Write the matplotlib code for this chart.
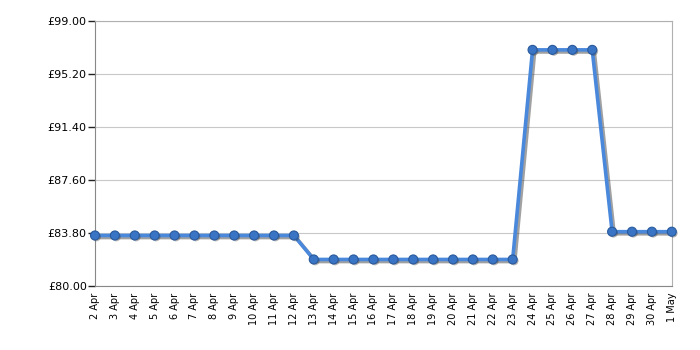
#!/usr/bin/env python3
import matplotlib
matplotlib.use("Agg")
import matplotlib.pyplot as plt
import matplotlib.patheffects as pe
import numpy as np

# price history, one value per day
dates = ["2 Apr", "3 Apr", "4 Apr", "5 Apr", "6 Apr", "7 Apr", "8 Apr", "9 Apr",
         "10 Apr", "11 Apr", "12 Apr", "13 Apr", "14 Apr", "15 Apr", "16 Apr",
         "17 Apr", "18 Apr", "19 Apr", "20 Apr", "21 Apr", "22 Apr", "23 Apr",
         "24 Apr", "25 Apr", "26 Apr", "27 Apr", "28 Apr", "29 Apr", "30 Apr", "1 May"]
prices = [83.62] * 11 + [81.90] * 11 + [96.93] * 4 + [83.89] * 4
y_ticks = [80.00, 83.80, 87.60, 91.40, 95.20, 99.00]
grid_days = [2, 5, 8, 11, 14, 17, 20, 23, 26, 29]  # indices with a vertical gridline

fig = plt.figure(figsize=(7, 3.5), dpi=100)
ax = fig.add_axes([0.1357, 0.183, 0.824, 0.757])

x = np.arange(len(dates))
# line with a soft drop shadow
ax.plot(x, prices, color="#4a88dc", lw=2.6, zorder=3, clip_on=False,
        path_effects=[pe.SimpleLineShadow(offset=(1.5, -1.5), shadow_color="#444444", alpha=0.5),
                      pe.Normal()])
# markers on top, small shadow only
ax.plot(x, prices, ls="none", marker="o", ms=6.5, mfc="#3a74c4", mec="#2a5a9c",
        mew=0.8, zorder=4, clip_on=False,
        path_effects=[pe.SimplePatchShadow(offset=(1, -1), shadow_rgbFace="#333333", alpha=0.35),
                      pe.Normal()])

ax.set_xlim(0, len(dates) - 1)
ax.set_ylim(80, 99)
ax.set_yticks(y_ticks)
ax.set_yticklabels([f"£{v:.2f}" for v in y_ticks])
ax.set_xticks(x)
ax.set_xticklabels(dates, rotation=90, fontsize=7)
ax.set_xticks(grid_days, minor=True)

ax.tick_params(axis="y", length=5, width=1, color="#222222", labelsize=8, pad=1)
ax.tick_params(axis="x", which="major", length=0, pad=5)
ax.tick_params(axis="x", which="minor", length=4, width=1, color="#222222")

ax.grid(True, axis="y", color="#c8c8c8", lw=0.8)
ax.grid(True, axis="x", which="minor", color="#c8c8c8", lw=0.8)
ax.set_axisbelow(True)

for side in ["top", "right"]:
    ax.spines[side].set_color("#b0b0b0")
for side in ["left", "bottom"]:
    ax.spines[side].set_color("#888888")

fig.savefig("out.png", dpi=100)
